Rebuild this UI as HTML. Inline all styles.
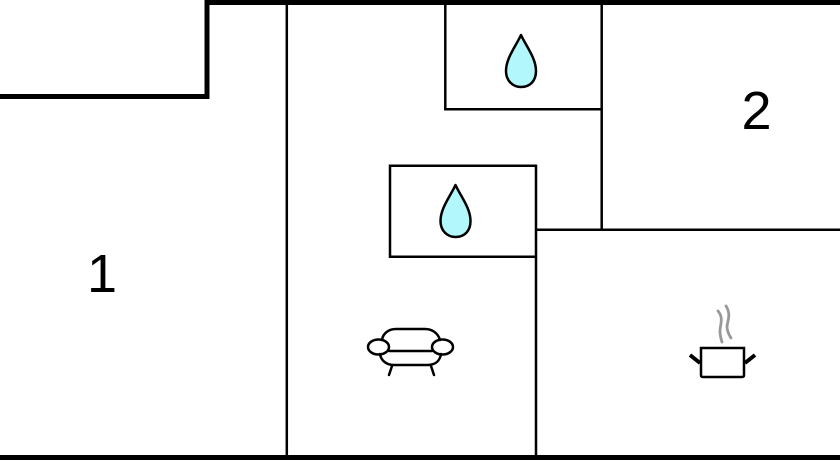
<!DOCTYPE html>
<html><head><meta charset="utf-8"><style>
html,body{margin:0;padding:0;background:#fff;width:840px;height:460px;overflow:hidden}
svg{display:block}
text{font-family:"Liberation Sans",sans-serif;font-size:54px;fill:#000}
</style></head><body>
<svg width="840" height="460" viewBox="0 0 840 460" xmlns="http://www.w3.org/2000/svg">
<rect width="840" height="460" fill="#fff"/>
<g fill="none" stroke="#000">
<path d="M0 96.500H207V2.500H840" stroke-width="5"/>
<path d="M0 457.500H840" stroke-width="5"/>
<g stroke-width="2.500">
<path d="M286.800 3V456"/>
<path d="M445.300 3V109.300H601.500"/>
<path d="M601.700 3V230"/>
<path d="M536 165V456"/>
<path d="M536 229.800H840"/>
<path d="M537 165.800H390V256.700H536"/>
</g>
</g>
<g fill="#b2f7fb" stroke="#000" stroke-width="2.500" stroke-linejoin="round">
<path d="M521 35C516 46 506 58 506 71C506 81 513 87 521 87C530 87 536 81 536 71C536 58 526 46 521 35Z"/>
<path d="M455.500 185C450.500 196 440.500 208 440.500 221C440.500 231 447.500 237 455.500 237C464.500 237 470.500 231 470.500 221C470.500 208 460.500 196 455.500 185Z"/>
</g>
<g fill="none" stroke="#000" stroke-width="2.500" stroke-linecap="round">
<path d="M382 340C383 333 389 329 396 329H425C432 329 438 333 440 340"/>
<path d="M389 351H432"/>
<path d="M380 354C381 361 387 365 394 365H427C435 365 440 361 441 354"/>
<ellipse cx="378.500" cy="347" rx="10.500" ry="7.500"/>
<ellipse cx="442.500" cy="347" rx="10.500" ry="7.500"/>
<path d="M392 366L389 375M431 366L434 375"/>
</g>
<g fill="none" stroke="#000">
<path d="M701 348H744V375Q744 377 742 377H703Q701 377 701 375Z" stroke-width="2.500"/>
<path d="M700 363L690 355M745 363L755 355" stroke-width="4"/>
</g>
<g fill="none" stroke="#999" stroke-width="2.800" stroke-linecap="round">
<path d="M718 311C724 318 720 325 720 331C720 335 721 339 722 342"/>
<path d="M726 306C731 314 728 320 727 326C727 331 729 335 731 338"/>
</g>
<text x="102" y="292" text-anchor="middle">1</text>
<text x="756.500" y="129" text-anchor="middle">2</text>
</svg>
</body></html>
